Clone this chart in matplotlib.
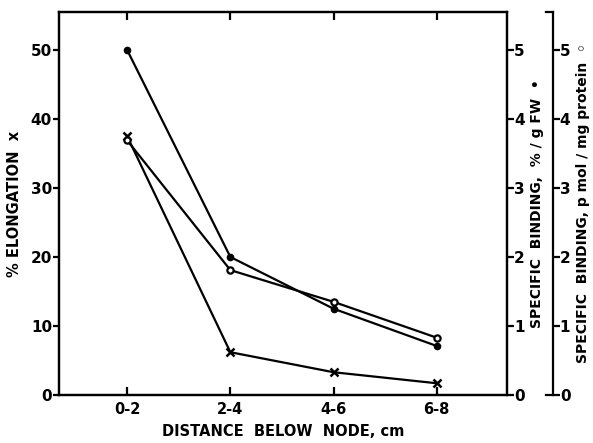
import numpy as np
import matplotlib
matplotlib.use("Agg")
import matplotlib.pyplot as plt

categories = ["0-2", "2-4", "4-6", "6-8"]
elongation = [37.5, 6.2, 3.3, 1.7]          # % elongation, x markers
binding_fw = [5.0, 2.0, 1.25, 0.71]         # % / g FW, filled dots
binding_protein = [3.69, 1.81, 1.35, 0.83]  # pmol / mg protein, open dots

plt.rcParams["font.family"] = "DejaVu Sans"
plt.rcParams["font.weight"] = "bold"

fig = plt.figure(figsize=(5.93, 4.43), dpi=100)
ax = fig.add_axes([59 / 593, 48 / 443, 448 / 593, 383 / 443])
x = np.arange(len(categories))

lw = 1.6
ax.plot(x, elongation, color="black", lw=lw, marker="x", ms=5.5, mew=1.8)
ax.set_ylim(0, 55.5)
ax.set_xlim(-0.66, 3.68)

ax2 = ax.twinx()
ax2.set_ylim(0, 5.55)
ax2.plot(x, binding_fw, color="black", lw=lw, marker="o", ms=4.5)

ax3 = ax.twinx()
ax3.set_ylim(0, 5.55)
ax3.plot(x, binding_protein, color="black", lw=lw, marker="o", ms=4.5,
         mfc="white", mew=1.6)
ax3.spines["right"].set_position(("outward", 33))
for s in ["top", "bottom", "left"]:
    ax3.spines[s].set_visible(False)
# small serifs at the ends of the outer axis
off = 46 / 448
for yy in (0, 1):
    ax3.plot([1 + off - 7 / 448, 1 + off], [yy, yy], color="black", lw=1.6,
             transform=ax3.transAxes, clip_on=False)

for a in (ax, ax2, ax3):
    for s in a.spines.values():
        s.set_linewidth(1.6)

ax.set_xticks(x)
ax.set_xticklabels(categories)
ax.set_yticks(np.arange(0, 51, 10))
ax.tick_params(axis="x", direction="in", length=6, width=1.6, top=True,
               labelsize=10.5, pad=5)
ax.tick_params(axis="y", direction="out", length=4, width=1.6,
               labelsize=11, pad=1)
for a in (ax2, ax3):
    a.set_yticks(np.arange(0, 6, 1))
    a.tick_params(axis="y", direction="out", length=5, width=1.6,
                  labelsize=11, pad=0)

ax.set_xlabel("DISTANCE  BELOW  NODE, cm", fontsize=10.5, fontweight="bold",
              labelpad=5)
ax.set_ylabel("% ELONGATION  x", fontsize=10.5, fontweight="bold", labelpad=6)
ax2.set_ylabel("SPECIFIC  BINDING,  % / g FW  \u2022", fontsize=10,
               fontweight="bold", labelpad=4)
ax3.set_ylabel("SPECIFIC  BINDING, p mol / mg protein  \u25e6", fontsize=10,
               fontweight="bold", labelpad=4)

fig.savefig("out.png", dpi=100)
